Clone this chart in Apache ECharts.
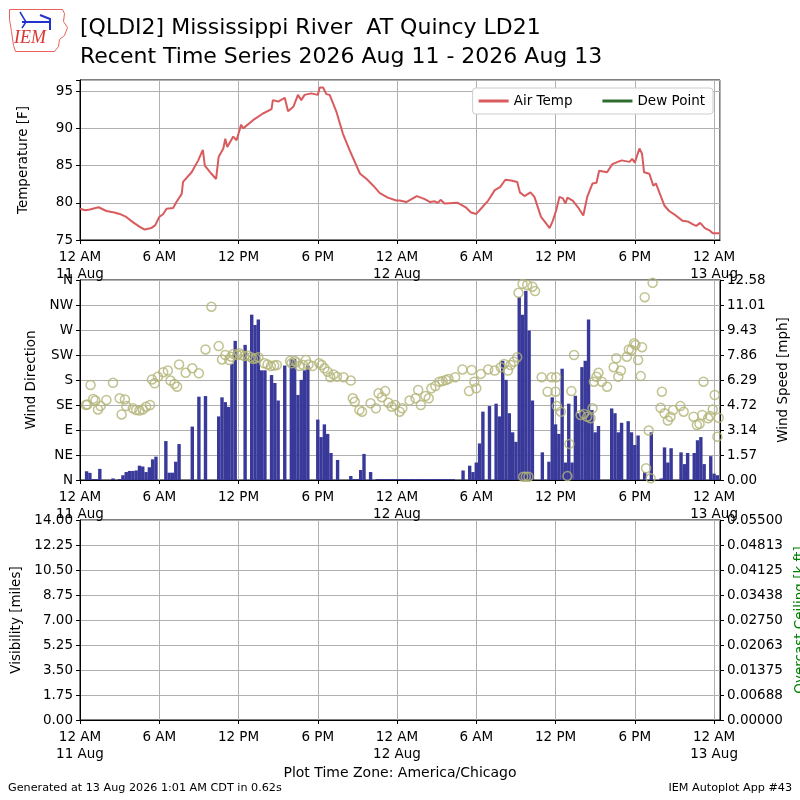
<!DOCTYPE html>
<html>
<head>
<meta charset="utf-8">
<script src="https://cdn.jsdelivr.net/npm/echarts@6/dist/echarts.min.js"></script>
<style>
  html, body { margin: 0; padding: 0; background: #fff; }
  #chart { width: 800px; height: 800px; }
</style>
</head>
<body>
<div id="chart"></div>
<script>
// hours since 12 AM 11 Aug (America/Chicago)
var tempHours = [0,0.4,0.75,1.4,1.5,2.0,2.6,3.0,3.5,4.0,
  4.5,4.9,5.4,5.7,6.0,6.3,6.55,7.05,7.3,7.7,
  7.8,8.45,8.95,9.3,9.45,9.95,10.3,10.5,10.85,11.0,
  11.15,11.6,11.85,12.2,12.35,13.1,13.85,14.5,14.6,15.0,
  15.5,15.75,16.15,16.5,16.75,17.0,17.5,18.0,18.15,18.4,
  18.65,18.9,19.4,19.9,20.4,21.2,21.7,22.2,22.7,23.3,
  23.95,24.2,24.7,25.5,26.1,26.5,26.85,27.1,27.3,27.6,
  28.6,29.2,29.6,30.0,30.4,30.9,31.4,31.8,32.2,32.65,
  33.1,33.3,33.65,34.1,34.4,34.9,35.3,35.55,35.8,36.05,
  36.3,36.55,36.75,36.9,37.3,37.7,38.1,38.4,38.8,39.1,
  39.3,39.9,40.3,40.7,41.0,41.6,41.8,42.0,42.35,42.55,
  42.7,43.1,43.4,43.6,43.9,44.25,44.6,45.1,45.6,46.0,
  46.4,46.65,46.95,47.3,47.65,47.9,48.45]
var tempF = [79.2,79.0,79.1,79.4,79.5,78.9,78.7,78.5,78.1,77.4,
  76.8,76.4,76.6,77.0,78.1,78.5,79.2,79.3,80.1,81.2,
  82.8,84.1,85.7,87.1,85.0,83.9,83.2,86.2,87.3,88.6,
  87.5,88.9,88.4,90.5,90.0,91.1,92.0,92.6,93.8,93.6,
  94.1,92.3,92.9,94.5,93.8,94.5,94.7,94.5,95.5,95.5,
  94.6,94.5,92.3,89.3,87.1,83.9,83.2,82.3,81.3,80.7,
  80.3,80.3,80.1,80.9,80.5,80.1,80.2,80.0,80.4,79.9,
  80.0,79.4,78.7,78.5,79.3,80.3,81.7,82.1,83.1,83.0,
  82.8,81.4,80.9,81.4,80.8,78.1,77.2,76.6,77.6,79.0,
  80.8,80.6,79.9,80.7,80.3,79.4,78.3,80.8,82.6,82.7,
  84.3,84.1,85.2,85.5,85.7,85.5,85.9,85.4,87.3,86.6,
  84.1,83.9,82.3,82.6,81.2,79.6,78.9,78.3,77.6,77.5,
  77.1,76.9,77.3,76.6,76.3,75.9,75.9]

// wind speed [mph], one value every 15 minutes from 12 AM 11 Aug
var windSpeed = [0,0,0.55,0.45,0.06,0.06,0.7,0,0,0,
  0.1,0,0.06,0.3,0.5,0.57,0.57,0.6,0.9,0.85,
  0.5,0.8,1.3,1.47,0,0,2.45,0.46,0.46,1.15,
  2.26,0,0,0,3.36,0,5.24,0,5.28,0,
  0,0,4.0,5.2,4.9,4.6,7.3,8.75,0,0,
  8.5,0,10.4,9.75,10.1,6.9,6.9,0,6.6,6.1,
  5.0,0,7.2,0,7.6,7.6,5.35,6.3,6.9,7.2,
  0,0,3.8,2.7,3.5,2.9,1.7,0,1.26,0,
  0,0,0.25,0.06,0.06,0.63,1.64,0,0.5,0,
  0.06,0.06,0.06,0.06,0.06,0.06,0.06,0.06,0.06,0.06,
  0.06,0.06,0.06,0.06,0.06,0.06,0.06,0.06,0.06,0.06,
  0.06,0.06,0.06,0.06,0,0,0.6,0,0.9,0.5,
  1.1,2.3,4.3,0,4.65,0,4.8,4.0,7.5,6.3,
  4.2,3.0,2.4,11.5,10.4,11.9,9.4,5.0,0,0,
  1.74,0,1.15,5.2,3.5,2.9,7.0,1.1,4.8,1.1,
  5.3,4.2,7.1,7.5,10.1,4.4,3.0,3.4,0,0,
  0,4.5,4.2,3.0,3.6,0,3.7,3.0,2.2,2.8,
  0,0.5,0,3.0,0,0,0.1,2.05,1.1,2.0,
  0,0,1.74,1.0,1.7,0,1.7,2.5,2.7,1.0,
  0,1.5,0.4,0.3]

// wind direction [deg]
var dirHours = [0.45,0.55,0.8,1.0,1.16,1.36,1.56,2.0,2.5,3.0,3.15,3.4,3.5,4.0,4.25,4.5,4.75,5.0,5.3,
  5.45,5.65,5.9,6.3,6.65,6.85,7.15,7.35,7.5,8.0,8.5,9.0,9.5,9.95,10.5,10.75,11.0,11.3,11.45,11.6,
  11.9,12.05,12.2,12.45,12.7,12.95,13.1,13.3,13.5,13.95,14.2,14.45,14.7,14.9,15.9,16.0,16.25,16.4,
  16.6,16.9,17.1,17.3,17.6,18.1,18.3,18.5,18.75,18.95,19.2,19.45,19.95,20.5,20.65,20.8,21.15,21.35,
  22.0,22.4,22.6,22.85,23.1,23.35,23.6,23.85,24.2,24.4,24.95,25.4,25.6,25.8,26.15,26.4,26.6,26.9,
  27.2,27.45,27.7,27.9,28.4,28.95,29.45,29.65,29.85,30.0,30.35,30.9,31.4,31.85,32.1,32.4,32.6,
  32.85,33.1,33.2,33.5,33.85,34.25,34.45,33.55,33.75,33.95,34.95,35.4,35.7,36.0,36.05,36.1,36.4,
  36.9,37.05,37.2,37.4,37.9,38.15,38.4,38.65,38.8,38.9,39.1,39.25,39.5,39.9,40.4,40.6,40.75,40.95,
  41.4,41.55,41.75,41.95,42.05,42.25,42.45,42.55,42.75,42.85,43.05,43.2,43.35,43.95,44.05,44.25,
  44.5,44.7,44.9,45.45,45.7,46.45,46.7,46.9,47.1,47.2,47.55,47.7,47.9,48.05,48.25,48.35]
var dirDeg = [135,136,171,146,143,127,133,144,175,147,118,145,133,129,126,125,127,132,135,
  181,174,186,194,197,179,173,168,208,193,201,192,235,312,241,217,225,216,222,227,
  225,228,225,223,224,221,218,219,221,210,208,205,206,207,214,210,214,212,
  205,207,216,208,205,210,207,201,195,185,190,186,185,179,147,141,126,123,
  138,129,156,149,160,139,132,135,123,129,143,147,162,135,151,147,165,169,
  177,178,180,182,185,199,160,198,177,165,191,199,197,203,209,197,207,
  213,221,337,353,351,348,340,6,6,6,185,159,185,159,185,133,123,
  7,65,160,225,117,119,114,111,129,177,186,193,177,168,203,219,186,197,
  222,235,234,246,243,216,187,239,329,21,89,3,355,130,159,120,
  107,114,126,133,123,114,99,101,117,177,111,115,127,153,78,112]

var compassLabels = ['N', 'NE', 'E', 'SE', 'S', 'SW', 'W', 'NW', 'N']
var speedTicks = ['0.00', '1.57', '3.14', '4.72', '6.29', '7.86', '9.43', '11.01', '12.58']
var visTicks = ['0.00', '1.75', '3.50', '5.25', '7.00', '8.75', '10.50', '12.25', '14.00']
var ceilTicks = ['0.00000', '0.00688', '0.01375', '0.02063', '0.02750', '0.03438', '0.04125', '0.04813', '0.05500']

var FONT = 'DejaVu Sans'

function timeLabel (v) {
  var h = Math.round(v)
  if (Math.abs(v - h) > 0.01 || h % 6 !== 0) return ''
  var hh = h % 24
  if (hh === 0) return '12 AM\n' + (11 + h / 24) + ' Aug'
  if (hh === 6) return '6 AM'
  if (hh === 12) return '12 PM'
  return '6 PM'
}

function tickLabel (list, step) {
  return function (v) {
    var i = Math.round(v / step)
    if (Math.abs(v - i * step) > step * 0.01) return ''
    return list[i] !== undefined ? list[i] : ''
  }
}

function xAxisFor (idx) {
  return {
    type: 'value', gridIndex: idx, min: 0, max: 48.45, interval: 6,
    axisLine: { show: true, lineStyle: { color: '#000', width: 1 } },
    axisTick: { show: true, length: 4, lineStyle: { color: '#000' } },
    axisLabel: { formatter: timeLabel, color: '#000', fontSize: 13.5, fontFamily: FONT,
      lineHeight: 17, margin: 9, showMaxLabel: false },
    splitLine: { show: true, lineStyle: { color: '#b0b0b0', width: 1 } }
  }
}

function yAxisFor (idx, opts) {
  return {
    type: 'value', gridIndex: idx, position: opts.position || 'left',
    min: opts.min, max: opts.max, interval: opts.interval,
    name: opts.name, nameLocation: 'middle', nameGap: opts.nameGap, nameRotate: 90,
    nameTextStyle: { color: opts.nameColor || '#000', fontSize: 13.5, fontFamily: FONT },
    axisLine: { show: true, lineStyle: { color: '#000', width: 1 } },
    axisTick: { show: true, length: 4, lineStyle: { color: '#000' } },
    axisLabel: { formatter: opts.formatter, color: '#000', fontSize: 13.5, fontFamily: FONT, margin: 7 },
    splitLine: { show: opts.split !== false, lineStyle: { color: '#b0b0b0', width: 1 } }
  }
}

var chart = echarts.init(document.getElementById('chart'), null, { renderer: 'canvas' })

function gridBox (top, height) {
  return {
    left: 80, right: 80, top: top, height: height,
    outerBoundsMode: 'none', containLabel: false,
    show: true, borderColor: '#000', borderWidth: 1, backgroundColor: 'transparent'
  }
}

chart.setOption({
  animation: false,
  backgroundColor: '#fff',
  textStyle: { fontFamily: FONT },
  grid: [gridBox(80, 160), gridBox(280, 200), gridBox(520, 200)],
  legend: {
    data: ['Air Temp', 'Dew Point'],
    right: 87, top: 88,
    itemWidth: 30, itemHeight: 3, icon: 'rect', itemGap: 30,
    padding: [6, 8, 6, 6],
    backgroundColor: '#fff', borderColor: '#cccccc', borderWidth: 1, borderRadius: 3,
    textStyle: { color: '#000', fontSize: 13.5, fontFamily: FONT }
  },
  xAxis: [xAxisFor(0), xAxisFor(1), xAxisFor(2)],
  yAxis: [
    yAxisFor(0, { min: 75, max: 96.5, interval: 5, name: 'Temperature [F]', nameGap: 50,
      formatter: function (v) { return v % 5 === 0 ? String(v) : '' } }),
    yAxisFor(1, { min: 0, max: 360, interval: 45, name: 'Wind Direction', nameGap: 40,
      formatter: tickLabel(compassLabels, 45) }),
    yAxisFor(1, { position: 'right', min: 0, max: 12.58, interval: 1.5725, name: 'Wind Speed [mph]',
      nameGap: 54, split: false, formatter: tickLabel(speedTicks, 1.5725) }),
    yAxisFor(2, { min: 0, max: 14, interval: 1.75, name: 'Visibility [miles]', nameGap: 55,
      formatter: tickLabel(visTicks, 1.75) }),
    yAxisFor(2, { position: 'right', min: 0, max: 0.055, interval: 0.006875, name: 'Overcast Ceiling [k ft]',
      nameGap: 72, nameColor: '#008000', split: false, formatter: tickLabel(ceilTicks, 0.006875) })
  ],
  series: [
    {
      name: 'Air Temp', type: 'line', xAxisIndex: 0, yAxisIndex: 0,
      showSymbol: false, color: '#d95b5e',
      lineStyle: { width: 2, color: '#d95b5e' },
      data: tempHours.map(function (h, i) { return [h, tempF[i]] })
    },
    {
      name: 'Dew Point', type: 'line', xAxisIndex: 0, yAxisIndex: 0,
      showSymbol: false, color: '#2e6b2e',
      lineStyle: { width: 2, color: '#2e6b2e' },
      data: []
    },
    {
      name: 'Wind Speed', type: 'bar', xAxisIndex: 1, yAxisIndex: 2,
      barWidth: 3.4, itemStyle: { color: '#39399a' },
      data: windSpeed.map(function (v, i) { return [i * 0.25, v] })
    },
    {
      name: 'Wind Direction', type: 'scatter', xAxisIndex: 1, yAxisIndex: 1,
      symbol: 'circle', symbolSize: 9,
      itemStyle: { color: 'rgba(0,0,0,0)', borderColor: '#b3b477', borderWidth: 1.5 },
      data: dirHours.map(function (h, i) { return [h, dirDeg[i]] })
    },
    {
      name: 'Visibility', type: 'line', xAxisIndex: 2, yAxisIndex: 3, data: []
    }
  ],
  graphic: [
    // IEM logo
    {
      type: 'polygon', left: 7, top: 7, silent: true,
      shape: { points: [[0, 0], [53, 0], [55, 4], [54, 12], [58, 18], [55, 26], [50, 30], [49, 37], [45, 42], [6, 42], [4, 36], [2, 22], [0, 10]] },
      style: { fill: 'none', stroke: '#e86060', lineWidth: 1 }
    },
    {
      type: 'polyline', silent: true,
      shape: { points: [[22, 22], [50, 22]] },
      style: { stroke: '#2233cc', lineWidth: 2 }
    },
    {
      type: 'polyline', silent: true,
      shape: { points: [[20, 12], [26, 22], [22, 28]] },
      style: { stroke: '#2233cc', lineWidth: 1.5, fill: 'none' }
    },
    {
      type: 'polyline', silent: true,
      shape: { points: [[40, 15], [50, 19], [50, 30]] },
      style: { stroke: '#2233cc', lineWidth: 2, fill: 'none' }
    },
    {
      type: 'text', left: 14, top: 29, silent: true,
      style: { text: 'IEM', fill: '#dd3333', font: 'italic 18px "Liberation Serif", serif' }
    },
    // titles
    {
      type: 'text', left: 80, top: 17,
      style: { text: '[QLDI2] Mississippi River  AT Quincy LD21', fill: '#000', font: '22px "DejaVu Sans"' }
    },
    {
      type: 'text', left: 80, top: 46,
      style: { text: 'Recent Time Series 2026 Aug 11 - 2026 Aug 13', fill: '#000', font: '22px "DejaVu Sans"' }
    },
    {
      type: 'text', left: 'center', top: 766,
      style: { text: 'Plot Time Zone: America/Chicago', fill: '#000', font: '14px "DejaVu Sans"' }
    },
    {
      type: 'text', left: 8, top: 783,
      style: { text: 'Generated at 13 Aug 2026 1:01 AM CDT in 0.62s', fill: '#000', font: '11.2px "DejaVu Sans"' }
    },
    {
      type: 'text', right: 8, top: 783,
      style: { text: 'IEM Autoplot App #43', fill: '#000', font: '11.2px "DejaVu Sans"' }
    }
  ]
})
</script>
</body>
</html>
